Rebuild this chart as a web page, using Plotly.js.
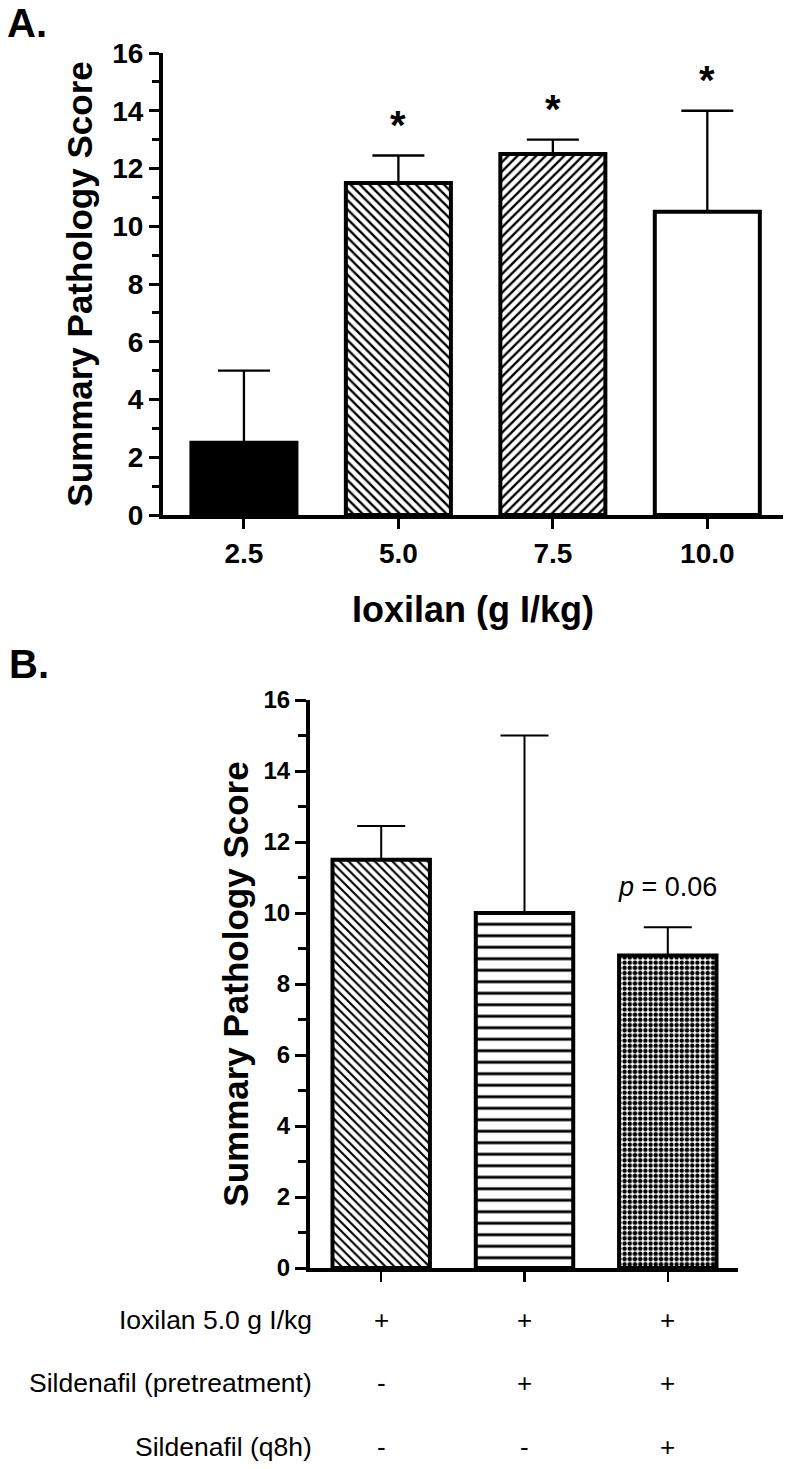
<!DOCTYPE html>
<html>
<head>
<meta charset="utf-8">
<script src="https://cdn.plot.ly/plotly-3.0.1.min.js"></script>
<style>html,body{margin:0;padding:0;background:#fff;}#chart{width:789px;height:1469px;}</style>
</head>
<body>
<div id="chart"></div>
<script>
// ---- Panel A data ----
const catsA = ['2.5', '5.0', '7.5', '10.0'];
const meanA = [2.5, 11.5, 12.5, 10.5];
const semA = [2.5, 0.95, 0.5, 3.5];
const sigA = ['', '*', '*', '*'];
const patternA = ['', '\\', '/', ''];
const fillA = ['black', 'white', 'white', 'white'];

// ---- Panel B data ----
const catsB = ['Ioxilan', 'Ioxilan + Sildenafil (pretreatment)', 'Ioxilan + Sildenafil (pretreatment + q8h)'];
const meanB = [11.5, 10.0, 8.8];
const semB = [0.95, 5.0, 0.8];
const noteB = ['', '', '<i>p</i> = 0.06'];
const patternB = ['\\', '-', '.'];
const rowLabels = ['Ioxilan 5.0 g I/kg', 'Sildenafil (pretreatment)', 'Sildenafil (q8h)'];
const rowMarks = [['+', '+', '+'], ['-', '+', '+'], ['-', '-', '+']];

const FONT = 'Liberation Sans, Arial, Helvetica, sans-serif';
const W = 789, H = 1469;
const px = v => v / W;
const py = v => 1 - v / H;

// Panel A: one trace per bar (overlay mode keeps each centred on its category)
const tracesA = catsA.map((c, i) => {
  const marker = {color: fillA[i], line: {color: 'black', width: 4}};
  if (patternA[i]) {
    marker.pattern = {shape: patternA[i], fgcolor: 'black', bgcolor: 'white', size: 6.6, solidity: 0.36, fillmode: 'replace'};
  }
  return {
    type: 'bar', x: [c], y: [meanA[i]], xaxis: 'x', yaxis: 'y', width: 0.68,
    marker: marker,
    error_y: {type: 'data', symmetric: false, array: [semA[i]], arrayminus: [0],
              color: 'black', thickness: 2.3, width: 26},
    hoverinfo: 'none', showlegend: false
  };
});

const traceB = {
  type: 'bar', x: catsB, y: meanB, xaxis: 'x2', yaxis: 'y2', width: 0.68,
  marker: {
    color: 'white',
    line: {color: 'black', width: 4},
    pattern: {shape: patternB, fgcolor: 'black', bgcolor: 'white', size: [6.2, 11.5, 5.2], solidity: [0.34, 0.25, 0.56], fillmode: 'replace'}
  },
  error_y: {type: 'data', symmetric: false, array: semB, arrayminus: catsB.map(() => 0),
            color: 'black', thickness: 2, width: 24},
  hoverinfo: 'none', showlegend: false
};

const annotations = [];
// panel letters
annotations.push({text: '<b>A.</b>', xref: 'paper', yref: 'paper', x: px(5), y: py(23), xanchor: 'left', yanchor: 'middle',
  showarrow: false, font: {family: FONT, size: 40, color: 'black'}});
annotations.push({text: '<b>B.</b>', xref: 'paper', yref: 'paper', x: px(7), y: py(664), xanchor: 'left', yanchor: 'middle',
  showarrow: false, font: {family: FONT, size: 40, color: 'black'}});
// significance stars
sigA.forEach((s, i) => {
  if (!s) return;
  annotations.push({text: '<b>' + s + '</b>', xref: 'x', yref: 'y', x: i, y: meanA[i] + semA[i], yshift: 31,
    xanchor: 'center', yanchor: 'middle', showarrow: false, font: {family: FONT, size: 40, color: 'black'}});
});
// p-value note
noteB.forEach((s, i) => {
  if (!s) return;
  annotations.push({text: s, xref: 'x2', yref: 'y2', x: i, y: meanB[i] + semB[i], yshift: 40,
    xanchor: 'center', yanchor: 'middle', showarrow: false, font: {family: FONT, size: 27, color: 'black'}});
});
// treatment rows
const rowY = [1320, 1383, 1447];
rowLabels.forEach((lab, r) => {
  annotations.push({text: lab, xref: 'paper', yref: 'paper', x: px(314), y: py(rowY[r]), xanchor: 'right', yanchor: 'middle',
    showarrow: false, font: {family: FONT, size: 26.5, color: 'black'}});
  rowMarks[r].forEach((m, i) => {
    annotations.push({text: m, xref: 'x2', yref: 'paper', x: i, y: py(rowY[r]), xanchor: 'center', yanchor: 'middle',
      showarrow: false, font: {family: FONT, size: 26, color: 'black'}});
  });
});

const baseAxis = {showline: true, linecolor: 'black', showgrid: false, zeroline: false, ticks: 'outside', tickcolor: 'black', fixedrange: true};

const layout = {
  width: W, height: H,
  margin: {l: 0, r: 0, t: 0, b: 0, pad: 0},
  paper_bgcolor: 'white', plot_bgcolor: 'rgba(0,0,0,0)',
  font: {family: FONT, color: 'black'},
  barmode: 'overlay',
  xaxis: Object.assign({}, baseAxis, {
    domain: [px(163), px(783)], anchor: 'y', type: 'category', categoryorder: 'array', categoryarray: catsA,
    range: [-0.524, 3.49],
    linewidth: 4, ticklen: 10, tickwidth: 3,
    tickfont: {family: FONT, size: 28, weight: 'bold', color: 'black'},
    title: {text: 'Ioxilan (g I/kg)', font: {family: FONT, size: 36, weight: 'bold', color: 'black'}, standoff: 30}
  }),
  yaxis: Object.assign({}, baseAxis, {
    domain: [py(515), py(53)], anchor: 'x', range: [0, 16], dtick: 2, tick0: 0,
    linewidth: 4, ticklen: 10, tickwidth: 3,
    tickfont: {family: FONT, size: 28, weight: 'bold', color: 'black'},
    minor: {dtick: 1, ticks: 'outside', ticklen: 7, tickwidth: 3, tickcolor: 'black', showgrid: false},
    title: {text: 'Summary Pathology Score', font: {family: FONT, size: 35, weight: 'bold', color: 'black'}, standoff: 10}
  }),
  xaxis2: Object.assign({}, baseAxis, {
    domain: [px(310), px(738)], anchor: 'y2', type: 'category', range: [-0.497, 2.49],
    linewidth: 4, ticklen: 10, tickwidth: 2.5, showticklabels: false
  }),
  yaxis2: Object.assign({}, baseAxis, {
    domain: [py(1268), py(700)], anchor: 'x2', range: [0, 16], dtick: 2, tick0: 0,
    linewidth: 4, ticklen: 11, tickwidth: 3,
    tickfont: {family: FONT, size: 24, weight: 'bold', color: 'black'},
    minor: {dtick: 1, ticks: 'outside', ticklen: 8, tickwidth: 3, tickcolor: 'black', showgrid: false},
    title: {text: 'Summary Pathology Score', font: {family: FONT, size: 35, weight: 'bold', color: 'black'}, standoff: 5}
  }),
  annotations: annotations
};

Plotly.newPlot('chart', tracesA.concat([traceB]), layout, {staticPlot: true, displayModeBar: false});
</script>
</body>
</html>
